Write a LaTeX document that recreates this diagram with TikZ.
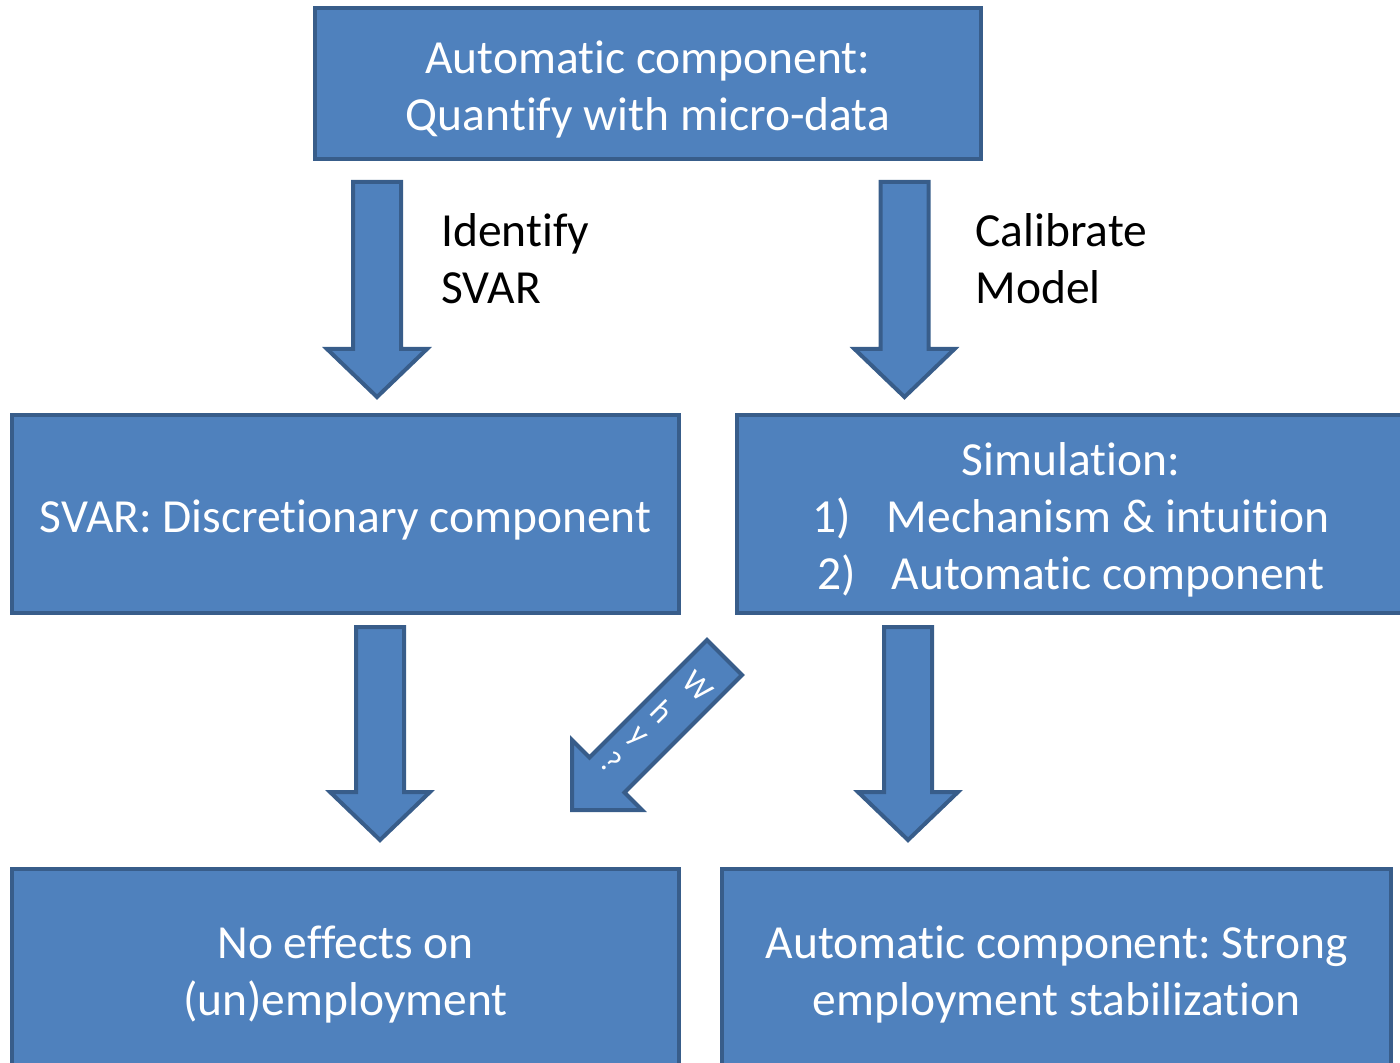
\documentclass[tikz,border=0pt]{standalone}
\usepackage{fontspec}
\setmainfont{Carlito}[Ligatures=NoCommon]
\frenchspacing
\usepackage{tikz}
\usetikzlibrary{positioning}
\definecolor{BoxFill}{RGB}{79,129,189}
\definecolor{BoxLine}{RGB}{56,93,138}
\tikzset{
  box/.style={draw=BoxLine,fill=BoxFill,line width=2.2pt,line join=miter,text=white,
    align=center,inner sep=0pt,font=\fontsize{23.75}{28.5}\selectfont},
  blockarrow/.style={draw=BoxLine,fill=BoxFill,line width=2pt,line join=miter},
  sidelabel/.style={align=left,inner sep=0pt,anchor=west,font=\fontsize{23.75}{28.5}\selectfont},
}
% strut that lowers the text a little in its box
\newcommand{\lowstrut}{\rule{0pt}{22pt}}
% down block arrow: centre x, top y, tip y (pixel units)
\newcommand{\downblock}[3]{%
  \draw[blockarrow] (#1-24,#2) -- (#1+24,#2) -- (#1+24,#3-48) -- (#1+50,#3-48)
    -- (#1,#3) -- (#1-50,#3-48) -- (#1-24,#3-48) -- cycle;}

\begin{document}
\begin{tikzpicture}[x=0.5pt,y=-0.5pt]
  \useasboundingbox (0,0) rectangle (1400,1063);
  \clip (0,0) rectangle (1400,1063);
  % Boxes
  \node[box,minimum width=333pt,minimum height=75.5pt] (auto) at (648,83.5)
    {\lowstrut Automatic component:\\Quantify with micro-data};
  \node[box,minimum width=333.5pt,minimum height=99pt] (svar) at (345.5,514)
    {\lowstrut SVAR: Discretionary component};
  \node[box,minimum width=334pt,minimum height=99pt] (sim) at (1071,514)
    {\lowstrut Simulation:\\1)\hspace{0.75em}Mechanism \& intuition\\2)\hspace{0.75em}Automatic component};
  \node[box,minimum width=333.5pt,minimum height=100pt] (noeff) at (345.5,969)
    {\lowstrut No effects on\\(un)employment};
  \node[box,minimum width=334.5pt,minimum height=100pt] (stab) at (1056.5,969)
    {\lowstrut Automatic component: Strong\\employment stabilization};
  % Block arrows
  \downblock{377}{182}{397}
  \downblock{904.5}{182}{397}
  \downblock{380}{627}{840}
  \downblock{908}{627}{840}
  % Diagonal arrow
  \draw[blockarrow] (707,640) -- (742,675) -- (624.5,792.5) -- (642,810)
    -- (572,810) -- (572,740) -- (589.5,757.5) -- cycle;
  \foreach \ch/\px/\py [count=\i] in {W/698/686,h/662/712,y/636/738,?/611/762}
    \node[text=white,rotate=-45,inner sep=0pt,font=\fontsize{16}{16}\selectfont]
      (why\i) at (\px,\py) {\ch};
  % Labels
  \node[sidelabel] (identify) at (441,258.5) {Identify\\SVAR};
  \node[sidelabel] (calibrate) at (975,258.5) {Calibrate\\Model};
\end{tikzpicture}
\end{document}
